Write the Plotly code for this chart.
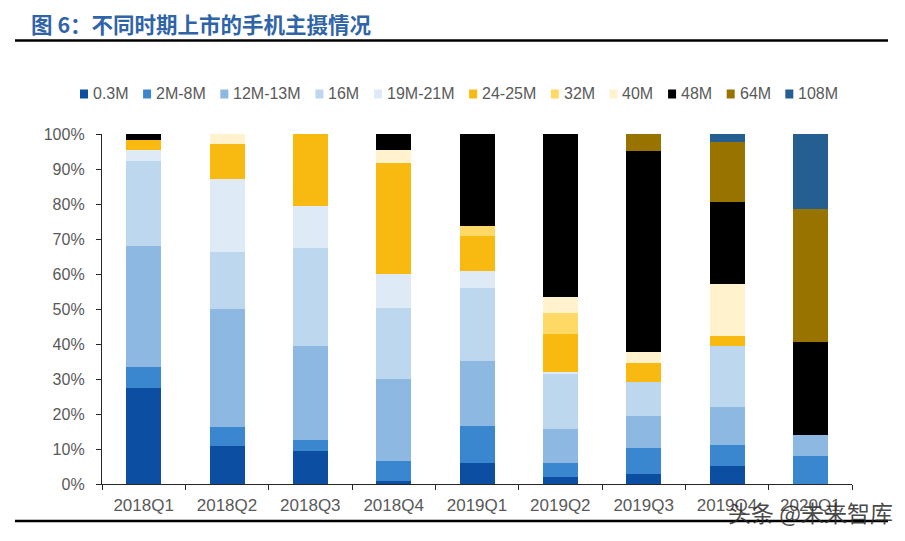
import plotly.graph_objects as go

categories = ["2018Q1", "2018Q2", "2018Q3", "2018Q4", "2019Q1", "2019Q2", "2019Q3", "2019Q4", "2020Q1"]
series_names = ["0.3M", "2M-8M", "12M-13M", "16M", "19M-21M", "24-25M", "32M", "40M", "48M", "64M", "108M"]

v_03m = [27.3, 10.9, 9.4, 0.8, 6.0, 2.0, 2.8, 5.1, 0.0]
v_2_8m = [6.2, 5.3, 3.2, 5.8, 10.5, 4.1, 7.5, 6.1, 8.1]
v_12_13m = [34.6, 33.8, 26.8, 23.5, 18.7, 9.6, 9.1, 10.9, 6.0]
v_16m = [24.3, 16.3, 28.1, 20.2, 20.7, 15.9, 9.7, 17.4, 0.0]
v_19_21m = [3.0, 20.8, 11.9, 9.6, 5.1, 0.3, 0.0, 0.0, 0.0]
v_24_25m = [3.0, 10.0, 20.6, 31.8, 9.9, 11.0, 5.5, 2.7, 0.0]
v_32m = [0.0, 0.0, 0.0, 0.0, 2.8, 6.1, 0.0, 0.0, 0.0]
v_40m = [0.0, 2.9, 0.0, 3.8, 0.0, 4.5, 3.2, 15.0, 0.0]
v_48m = [1.6, 0.0, 0.0, 4.5, 26.3, 46.5, 57.4, 23.5, 26.4]
v_64m = [0.0, 0.0, 0.0, 0.0, 0.0, 0.0, 4.8, 17.0, 38.0]
v_108m = [0.0, 0.0, 0.0, 0.0, 0.0, 0.0, 0.0, 2.3, 21.5]

series_values = [v_03m, v_2_8m, v_12_13m, v_16m, v_19_21m, v_24_25m, v_32m, v_40m, v_48m, v_64m, v_108m]
colors = ["#0B4EA2", "#3A87CF", "#8DB8E2", "#BDD7EE", "#DEEBF7", "#F8BA10",
          "#FFD966", "#FFF2CC", "#000000", "#997300", "#255E91"]

OFF = 8  # default page body margin
W, H = 905 - OFF, 541 - OFF
ML, MR, MT, MB = 102 - OFF, 53, 134 - OFF, 57
PW, PH = W - ML - MR, H - MT - MB


def px(x):
    return (x - OFF - ML) / PW


def py(y):
    return (MT + PH - (y - OFF)) / PH


FONT = "Arial, Liberation Sans, sans-serif"
GREY = "#595959"

fig = go.Figure()
for name, vals, col in zip(series_names, series_values, colors):
    fig.add_trace(go.Bar(x=categories, y=vals, name=name, marker_color=col,
                         marker_line_width=0, showlegend=False, hoverinfo="skip"))

fig.update_layout(
    width=W, height=H, barmode="stack", barnorm="percent", bargap=0.58,
    margin=dict(l=ML, r=MR, t=MT, b=MB),
    plot_bgcolor="white", paper_bgcolor="white",
    font=dict(family=FONT, size=16, color=GREY),
)
fig.update_yaxes(range=[0, 100], dtick=10, ticksuffix="%", showgrid=False,
                 showline=True, linecolor="#262626", linewidth=1.3,
                 ticks="outside", ticklen=5, tickcolor="#262626",
                 ticklabelstandoff=8, zeroline=False,
                 tickfont=dict(size=16, color=GREY, family=FONT))
fig.update_xaxes(showline=True, linecolor="#262626", linewidth=1.3, ticks="outside",
                 tickson="boundaries", ticklen=5, tickcolor="#262626", showgrid=False,
                 ticklabelstandoff=5,
                 tickfont=dict(size=17, color=GREY, family=FONT))

# Manual legend
char_w = {"M": 0.833, "-": 0.333, ".": 0.278}
lfs = 16
x = 80
shapes = []
annotations = []
for name, col in zip(series_names, colors):
    tw = sum(char_w.get(c, 0.556) for c in name) * lfs
    shapes.append(dict(type="rect", xref="paper", yref="paper",
                       x0=px(x), x1=px(x + 8), y0=py(98.5), y1=py(89.5),
                       fillcolor=col, line_width=0))
    annotations.append(dict(xref="paper", yref="paper", x=px(x + 11), y=py(94),
                            xanchor="left", yanchor="middle", text=name, showarrow=False,
                            font=dict(size=lfs, color=GREY, family=FONT)))
    x += 8 + 3 + tw + 16.5

# Title and rules
annotations.append(dict(xref="paper", yref="paper", x=px(29), y=py(23.5),
                        xanchor="left", yanchor="middle", showarrow=False,
                        text="图 6：不同时期上市的手机主摄情况",
                        font=dict(size=21.5, color="#2F64A8",
                                  family="Noto Sans CJK SC, sans-serif", weight="bold")))
shapes.append(dict(type="line", xref="paper", yref="paper", x0=px(15), x1=px(888),
                   y0=py(40.5), y1=py(40.5), line=dict(color="black", width=2.5)))
shapes.append(dict(type="line", xref="paper", yref="paper", x0=px(15), x1=px(888),
                   y0=py(521), y1=py(521), line=dict(color="black", width=2.5)))

# Watermark
annotations.append(dict(xref="paper", yref="paper", x=px(895), y=py(512),
                        xanchor="right", yanchor="middle", showarrow=False,
                        text="头条 @未来智库",
                        font=dict(size=23, color="rgba(40,40,40,0.85)",
                                  family="Noto Sans CJK SC, sans-serif")))

fig.update_layout(shapes=shapes, annotations=annotations)
fig.write_html("out.html")
